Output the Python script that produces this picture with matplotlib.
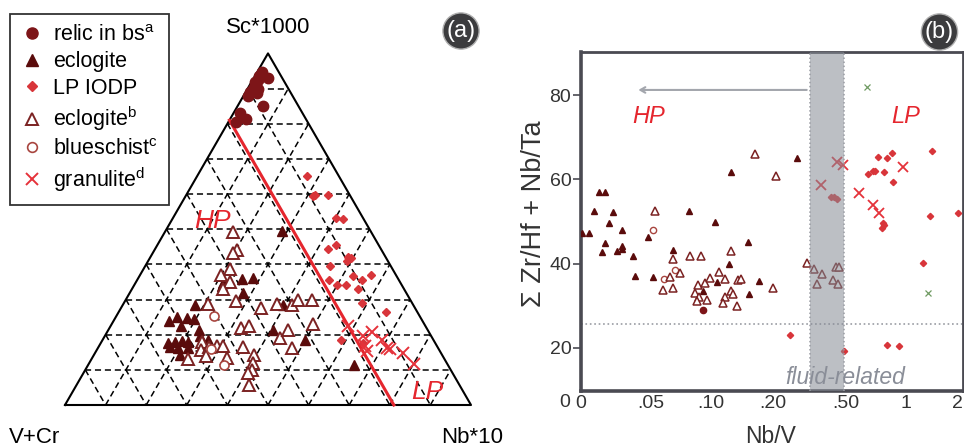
import numpy as np
import matplotlib
matplotlib.use("Agg")
import matplotlib.pyplot as plt
from matplotlib.lines import Line2D
from matplotlib.scale import FuncScale

plt.rcParams['font.family'] = ['Liberation Sans', 'DejaVu Sans']
plt.rcParams['mathtext.fontset'] = 'custom'
plt.rcParams['mathtext.rm'] = 'Liberation Sans'
plt.rcParams['mathtext.it'] = 'Liberation Sans:italic'

# ---------------- data: ternary (a), values in % (Sc*1000, Nb*10; V+Cr = rest)
relic_sc = [94.8, 93.5, 92.4, 92.9, 90.9, 90.0, 90.0, 89.1, 87.8, 88.8, 85.1, 83.1, 81.2, 80.5, 91.9]
relic_nb = [1.0, 1.1, 1.3, 3.5, 1.3, 1.4, 2.6, 1.0, 1.2, 2.8, 6.3, 1.6, 4.0, 1.9, 0.9]

ecl_sc = [49.5, 36.0, 35.9, 34.8, 33.8, 31.9, 28.3, 25.1, 23.8, 24.7, 24.5, 22.4, 21.4, 19.7,
          17.6, 17.8, 18.1, 17.8, 16.5, 16.2, 16.2, 14.3, 18.6, 21.4, 28.3, 18.6, 11.4]
ecl_nb = [28.6, 28.4, 25.6, 21.6, 21.7, 27.8, 17.9, 15.0, 13.8, 17.6, 19.6, 17.3, 22.3, 23.4,
          16.6, 18.2, 19.7, 21.5, 17.6, 19.8, 22.3, 21.2, 26.0, 40.6, 39.6, 49.8, 65.5]

eclb_sc = [49.1, 44.1, 43.3, 38.6, 36.9, 34.9, 32.9, 29.5, 28.6, 27.6, 28.6, 28.3, 21.9, 22.4,
           19.1, 21.4, 16.2, 16.4, 17.8, 15.7, 16.5, 16.7, 16.7, 13.8, 13.0, 13.3, 14.3, 11.9,
           10.0, 9.1, 5.7, 30.0, 30.0, 22.9]
eclb_nb = [16.9, 20.4, 19.8, 21.4, 20.0, 23.2, 22.4, 27.4, 20.8, 34.5, 37.9, 41.7, 32.3, 34.2,
           43.4, 44.3, 47.7, 35.7, 24.8, 25.6, 27.3, 29.0, 30.5, 27.8, 23.8, 33.2, 39.5, 40.4,
           41.0, 40.6, 42.5, 42.5, 45.9, 49.6]

blue_sc = [25.4, 11.4, 16.0]
blue_nb = [24.0, 33.5, 28.0]

iodp_sc = [65.2, 59.5, 59.7, 59.8, 53.3, 53.0, 44.3, 45.4, 42.2, 41.9, 40.9, 39.5, 36.7, 35.5,
           37.1, 35.5, 34.0, 34.0, 33.1, 29.1, 26.4, 18.4, 17.6]
iodp_nb = [27.1, 31.4, 31.8, 34.9, 40.1, 41.9, 42.7, 44.0, 48.7, 49.5, 48.9, 45.5, 52.5, 55.3,
           56.8, 47.3, 50.0, 52.1, 55.7, 58.5, 65.9, 58.7, 64.7]

gran_sc = [22.6, 19.7, 20.9, 16.9, 15.5, 18.6, 16.2, 15.9, 14.9, 11.7]
gran_nb = [58.5, 63.6, 65.1, 65.5, 66.6, 68.7, 71.1, 72.0, 75.9, 80.0]

# HP/LP divide (V+Cr ~ 19 %)
divide_sc = [81.0, 0.0]
divide_nb = [0.0, 81.0]

# ---------------- data: panel (b)  Nb/V vs sum Zr/Hf + Nb/Ta
b_ecl_x = [0.0005, 0.006, 0.009, 0.013, 0.017, 0.023, 0.020, 0.029, 0.017, 0.029, 0.029, 0.015,
           0.0255, 0.037, 0.0386, 0.052, 0.048, 0.068, 0.082, 0.106, 0.093, 0.297, 0.133, 0.160,
           0.1295, 0.178, 0.162, 0.109]
b_ecl_y = [47.2, 47.2, 52.5, 57.1, 57.1, 52.3, 49.7, 48.0, 45.0, 44.2, 43.5, 42.8,
           43.0, 41.8, 37.1, 36.9, 46.4, 43.3, 52.5, 49.9, 33.6, 65.1, 61.7, 45.1,
           40.0, 35.9, 32.8, 35.7]

b_relic_x = [0.093]
b_relic_y = [29.0]

b_blue_x = [0.0514, 0.061, 0.070]
b_blue_y = [47.9, 36.4, 38.5]

b_eclb_x = [0.053, 0.068, 0.0825, 0.0914, 0.074, 0.066, 0.060, 0.068, 0.089, 0.087, 0.090, 0.088,
            0.0964, 0.095, 0.099, 0.171, 0.212, 0.132, 0.113, 0.123, 0.144, 0.148, 0.133, 0.136,
            0.123, 0.119, 0.142, 0.1995, 0.339, 0.369, 0.40, 0.382, 0.445, 0.459, 0.472, 0.468]
b_eclb_y = [52.4, 41.1, 41.7, 41.7, 37.7, 36.8, 33.7, 34.3, 34.9, 33.0, 32.2, 31.1,
            31.4, 35.3, 36.5, 66.0, 60.8, 43.1, 38.1, 36.3, 36.1, 36.4, 33.6, 32.8,
            32.0, 30.6, 30.0, 34.3, 40.2, 38.8, 37.5, 35.2, 36.1, 39.3, 39.3, 35.2]

b_gran_x = [0.396, 0.462, 0.486, 0.972, 0.611, 0.722, 0.777]
b_gran_y = [58.7, 64.2, 63.4, 62.9, 56.8, 53.9, 51.9]

b_other_x = [0.672, 1.38]
b_other_y = [81.8, 33.1]

b_iodp_x = [0.44, 0.449, 0.464, 1.45, 0.88, 0.764, 0.844, 0.686, 0.728, 0.74, 0.82, 0.895, 1.42,
            1.905, 0.81, 0.82, 0.80, 1.30, 0.27, 0.492, 0.844, 0.944]
b_iodp_y = [55.9, 55.7, 55.3, 66.8, 66.3, 65.4, 65.1, 61.3, 61.9, 61.9, 61.8, 59.3, 51.2,
            52.0, 49.6, 49.2, 48.4, 40.2, 23.1, 19.3, 20.7, 20.5]

# x axis of (b) is stretched unevenly between the labelled values
nbv_ticks = [0, 0.05, 0.10, 0.20, 0.50, 1, 2]
nbv_ticklabels = ['0', '.05', '.10', '.20', '.50', '1', '2']
nbv_pos = [0, 70, 130, 192, 265, 325, 382]

fluid_band = (0.35, 0.49)
fluid_level = 25.7

c_relic = '#7d1518'
c_ecl = '#5a0b0b'
c_iodp = '#d8353a'
c_eclb = '#7b2222'
c_blue = '#a8453f'
c_gran = '#e5323a'
c_red = '#e5262e'


def tern(sc, nb):
    sc = np.asarray(sc) / 100.0
    nb = np.asarray(nb) / 100.0
    return nb + sc / 2, sc * np.sqrt(3) / 2


fig = plt.figure(figsize=(9.64, 4.47), dpi=100)

# ---------------- (a) ternary
ax1 = fig.add_axes([0, 0, 500 / 964, 1])
ax1.set_xlim(-65 / 406, 435 / 406)
ax1.set_ylim(-42 / 406, 405 / 406)
ax1.axis('off')

h = np.sqrt(3) / 2
for k in range(1, 10):
    f = k * 10
    for a, b in [((f, 0), (f, 100 - f)), ((0, f), (100 - f, f)), ((100 - f, 0), (0, 100 - f))]:
        gx, gy = tern([a[0], b[0]], [a[1], b[1]])
        ax1.plot(gx, gy, color='black', lw=1.1, ls=(0, (4, 2.5)), zorder=1)
ax1.plot([0, 1, 0.5, 0], [0, 0, h, 0], color='black', lw=1.5, zorder=2)

dx, dy = tern(divide_sc, divide_nb)
ax1.plot(dx, dy, color=c_red, lw=2.2, zorder=3)

x, y = tern(relic_sc, relic_nb)
ax1.plot(x, y, 'o', color=c_relic, ms=7.5, zorder=4)
x, y = tern(ecl_sc, ecl_nb)
ax1.plot(x, y, '^', color=c_ecl, ms=7.5, zorder=4)
x, y = tern(eclb_sc, eclb_nb)
ax1.plot(x, y, '^', mfc='white', mec=c_eclb, mew=1.4, ms=8, zorder=4)
x, y = tern(blue_sc, blue_nb)
ax1.plot(x, y, 'o', mfc='white', mec=c_blue, mew=1.2, ms=6.5, zorder=4)
x, y = tern(iodp_sc, iodp_nb)
ax1.plot(x, y, 'D', color=c_iodp, ms=4.5, zorder=4)
x, y = tern(gran_sc, gran_nb)
ax1.plot(x, y, 'x', color=c_gran, mew=1.4, ms=8, zorder=4)

ax1.text(0.5, 0.931, 'Sc*1000', ha='center', va='center', fontsize=16)
ax1.text(-0.074, -0.079, 'V+Cr', ha='center', va='center', fontsize=16)
ax1.text(1.002, -0.079, 'Nb*10', ha='center', va='center', fontsize=16)
ax1.text(0.3645, 0.453, 'HP', ha='center', va='center', fontsize=19, style='italic', color=c_red)
ax1.text(0.8916, 0.032, 'LP', ha='center', va='center', fontsize=19, style='italic', color=c_red)

handles = [
    Line2D([], [], ls='', marker='o', color=c_relic, ms=8),
    Line2D([], [], ls='', marker='^', color=c_ecl, ms=8),
    Line2D([], [], ls='', marker='D', color=c_iodp, ms=5),
    Line2D([], [], ls='', marker='^', mfc='white', mec=c_eclb, mew=1.4, ms=8.5),
    Line2D([], [], ls='', marker='o', mfc='white', mec=c_blue, mew=1.2, ms=7),
    Line2D([], [], ls='', marker='x', color=c_gran, mew=1.4, ms=8.5),
]
labels = [r'relic in bs$^{\mathrm{a}}$', 'eclogite', 'LP IODP', r'eclogite$^{\mathrm{b}}$',
          r'blueschist$^{\mathrm{c}}$', r'granulite$^{\mathrm{d}}$']
leg = ax1.legend(handles, labels, loc='upper left', bbox_to_anchor=(10 / 964, 1 - 14 / 447),
                 bbox_transform=fig.transFigure, fontsize=15.5, frameon=True, fancybox=False,
                 edgecolor='black', borderaxespad=0, handlelength=1.0, handletextpad=0.5,
                 labelspacing=0.26, borderpad=0.5)
leg.get_frame().set_linewidth(1.3)

# ---------------- (b) Nb/V vs Zr/Hf + Nb/Ta
ax2 = fig.add_axes([581 / 964, 56 / 447, 382 / 964, 339 / 447])
ax2.set_xscale(FuncScale(ax2, (lambda v: np.interp(v, nbv_ticks, nbv_pos),
                               lambda p: np.interp(p, nbv_pos, nbv_ticks))))
ax2.set_xlim(0, 2)
ax2.set_ylim(9.8, 90.2)

ax2.plot(b_ecl_x, b_ecl_y, '^', color=c_ecl, ms=4.8, zorder=3)
ax2.plot(b_relic_x, b_relic_y, 'o', color=c_relic, ms=4.5, zorder=3)
ax2.plot(b_blue_x, b_blue_y, 'o', mfc='white', mec=c_blue, mew=1.0, ms=4.5, zorder=3)
ax2.plot(b_eclb_x, b_eclb_y, '^', mfc='white', mec=c_eclb, mew=1.1, ms=6, zorder=3)
ax2.plot(b_iodp_x, b_iodp_y, 'D', color=c_iodp, ms=3.2, zorder=3)
ax2.plot(b_gran_x, b_gran_y, 'x', color=c_gran, mew=1.3, ms=6.5, zorder=3)
ax2.plot(b_other_x, b_other_y, 'x', color='#6f9a62', mew=0.9, ms=4.5, zorder=3)

ax2.axvspan(*fluid_band, color='#868b95', alpha=0.55, lw=0, zorder=5)
for xb in fluid_band:
    ax2.axvline(xb, color='#9a9ca3', ls=':', lw=1.1, zorder=6)
ax2.axhline(fluid_level, color='#9a9ca3', ls=':', lw=1.2, zorder=2)

ax2.annotate('', xy=(0.039, 81.2), xytext=(fluid_band[0], 81.2),
             arrowprops=dict(arrowstyle='->,head_length=0.35,head_width=0.2', color='#a3a6ad', lw=1.5))

ax2.text(0.0486, 74.8, 'HP', ha='center', va='center', fontsize=17, style='italic', color=c_red)
ax2.text(1.0, 74.8, 'LP', ha='center', va='center', fontsize=17, style='italic', color=c_red)
ax2.text(0.496, 13.1, 'fluid-related', ha='center', va='center', fontsize=16.5,
         style='italic', color='#8a8e98', zorder=7)

ax2.set_xticks(nbv_ticks)
ax2.set_xticklabels(nbv_ticklabels)
ax2.get_xticklabels()[-1].set_ha('right')
ax2.set_yticks([20, 40, 60, 80])
ax2.tick_params(axis='x', length=0, pad=3, labelsize=14, labelcolor='#333333')
ax2.tick_params(axis='y', length=6, width=1.2, color='#4a4a52', pad=1, labelsize=14,
                labelcolor='#333333')
ax2.text(-0.042, -0.035, '0', transform=ax2.transAxes, ha='center', va='center',
         fontsize=14, color='#333333')

ax2.set_xlabel('Nb/V', fontsize=16.5, color='#333333')
ax2.xaxis.set_label_coords(0.495, -0.1)
ax2.set_ylabel('\u03a3 Zr/Hf + Nb/Ta', fontsize=19.5, color='#333333')
ax2.yaxis.set_label_coords(-0.088, 0.522)

for side in ['top', 'right']:
    ax2.spines[side].set_color('#4a4a52')
    ax2.spines[side].set_linewidth(2.0)
for side in ['left', 'bottom']:
    ax2.spines[side].set_color('#4a4a52')
    ax2.spines[side].set_linewidth(2.6)

# panel badges
for bx, by, s in [(461, 31, '(a)'), (939.5, 32, '(b)')]:
    fig.text(bx / 964, 1 - by / 447, s, ha='center', va='center', fontsize=17, color='white',
             bbox=dict(boxstyle='circle,pad=0.15', fc='#3c3c3e', ec='#b0b0b0', lw=1.0))

fig.savefig('out.png', dpi=100)
